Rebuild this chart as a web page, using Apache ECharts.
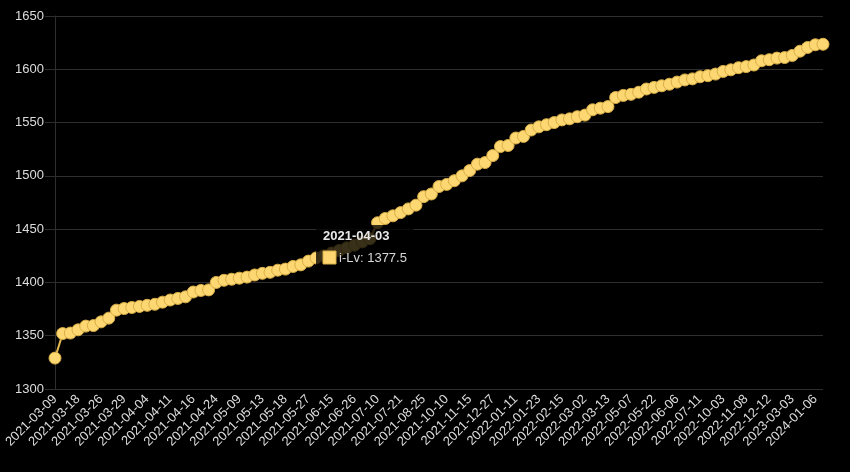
<!DOCTYPE html>
<html>
<head>
<meta charset="utf-8">
<script src="https://cdn.jsdelivr.net/npm/echarts@6/dist/echarts.min.js"></script>
<style>
html,body{margin:0;padding:0;background:#000;}
#chart{width:850px;height:472px;}
</style>
</head>
<body>
<div id="chart"></div>
<script>
const seriesName = 'i-Lv';
const dates = [
'2021-03-09','2021-03-12','2021-03-15','2021-03-18','2021-03-21','2021-03-23','2021-03-26','2021-03-27','2021-03-28','2021-03-29',
'2021-04-01','2021-04-03','2021-04-04','2021-04-07','2021-04-09','2021-04-11','2021-04-13','2021-04-14','2021-04-16','2021-04-19',
'2021-04-22','2021-04-24','2021-04-29','2021-05-04','2021-05-09','2021-05-10','2021-05-12','2021-05-13','2021-05-15','2021-05-16',
'2021-05-18','2021-05-21','2021-05-24','2021-05-27','2021-06-02','2021-06-09','2021-06-15','2021-06-19','2021-06-22','2021-06-26',
'2021-06-30','2021-07-05','2021-07-10','2021-07-14','2021-07-17','2021-07-21','2021-08-01','2021-08-13','2021-08-25','2021-09-07',
'2021-09-24','2021-10-10','2021-10-22','2021-11-03','2021-11-15','2021-11-29','2021-12-13','2021-12-27','2022-01-02','2022-01-07',
'2022-01-11','2022-01-15','2022-01-19','2022-01-23','2022-01-31','2022-02-08','2022-02-15','2022-02-20','2022-02-25','2022-03-02',
'2022-03-06','2022-03-09','2022-03-13','2022-04-01','2022-04-19','2022-05-07','2022-05-12','2022-05-17','2022-05-22','2022-05-27',
'2022-06-01','2022-06-06','2022-06-17','2022-06-29','2022-07-11','2022-08-08','2022-09-05','2022-10-03','2022-10-15','2022-10-27',
'2022-11-08','2022-11-19','2022-11-30','2022-12-12','2023-01-08','2023-02-04','2023-03-03','2023-06-08','2023-09-22','2024-01-06',
'2024-03-15'
];
const values = [
1329,1352,1352.5,1355.5,1359,1359.5,1363,1366.5,1374,1375.5,
1376.5,1377.5,1378.5,1379.5,1381.5,1383.5,1385,1386.5,1391,1392.5,
1393,1400,1402,1403,1404,1405,1407,1408.5,1409.5,1411.5,
1412.5,1415,1416.5,1420,1423,1425,1427.5,1430,1432.5,1435,
1438,1441,1456,1460,1462.5,1465.5,1469,1472.5,1480.5,1483,
1490,1492,1495.5,1500,1505,1511,1512.5,1519,1527.5,1528.5,
1535.5,1537,1543,1546,1548,1550,1552.5,1553.5,1555.5,1557,
1562,1563.5,1565,1573.5,1575.5,1576.5,1578.5,1581.5,1583,1584.5,
1586,1588,1590,1591,1593,1594,1595.5,1598,1599.5,1601.5,
1602.5,1604,1608,1609,1610.5,1611,1613,1617,1620.5,1623,
1623.5
];
const yMin = 1300, yMax = 1650, yStep = 50;
const tipIndex = 11;

const chart = echarts.init(document.getElementById('chart'), null, {renderer:'canvas'});
const font = 'Liberation Sans, Arial, Helvetica, sans-serif';
const gridColor = '#2e2e2e';
chart.setOption({
  backgroundColor: '#000',
  animation: false,
  grid: {left: 55, right: 27, top: 16, bottom: 83},
  xAxis: {
    type: 'category',
    data: dates,
    boundaryGap: false,
    axisLine: {show: false},
    axisTick: {show: false},
    splitLine: {show: false},
    axisLabel: {
      interval: 2, rotate: 45, margin: 8,
      color: '#dcdcdc', fontSize: 13, fontFamily: font
    }
  },
  yAxis: {
    type: 'value',
    min: yMin, max: yMax, interval: yStep,
    axisLine: {show: true, lineStyle: {color: gridColor, width: 1}},
    axisTick: {show: true, length: 10, lineStyle: {color: gridColor}},
    splitLine: {show: true, lineStyle: {color: gridColor, width: 1}},
    axisLabel: {color: '#dcdcdc', fontSize: 13, fontFamily: font, margin: 11,
      formatter: v => String(v)}
  },
  series: [{
    name: seriesName,
    type: 'line',
    data: values,
    symbol: 'circle',
    symbolSize: 12,
    showAllSymbol: true,
    lineStyle: {color: '#e2b84e', width: 2},
    itemStyle: {color: '#fdd872', borderColor: '#d9ad45', borderWidth: 1}
  }]
});

// static tooltip box as seen in the reference
const tx = 316, ty = 225;
chart.setOption({
  graphic: [{
    type: 'group', left: tx, top: ty, z: 100,
    children: [
      {type: 'rect', shape: {x: 0, y: 0, width: 98, height: 46, r: 6},
       style: {fill: 'rgba(0,0,0,0.78)'}, z: 100},
      {type: 'text', x: 7, y: 5, z: 101,
       style: {text: dates[tipIndex], fill: '#e8e8e8', font: 'bold 13px ' + font}},
      {type: 'rect', shape: {x: 7, y: 26, width: 13, height: 13},
       style: {fill: '#fdd872', stroke: '#d9ad45', lineWidth: 1}, z: 101},
      {type: 'text', x: 23, y: 27, z: 101,
       style: {text: seriesName + ': ' + values[tipIndex], fill: '#d8d8d8', font: '13px ' + font}}
    ]
  }]
});
</script>
</body>
</html>
